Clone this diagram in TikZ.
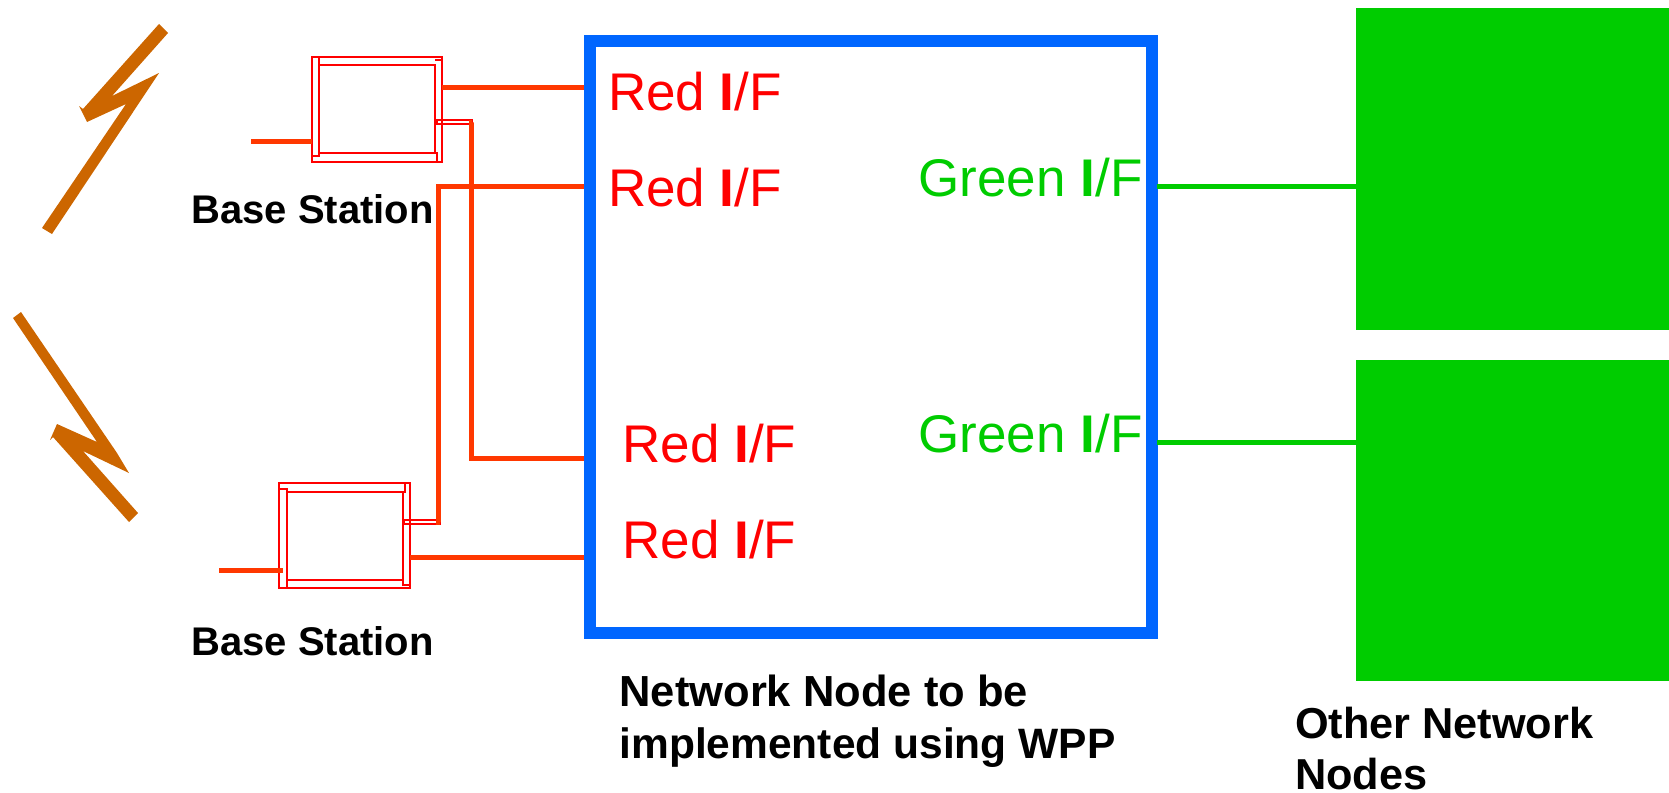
\documentclass[tikz,border=0pt]{standalone}
\usepackage{fontspec}
\setmainfont{Liberation Sans}
\definecolor{wire}{RGB}{255,56,0}
\definecolor{boxred}{RGB}{255,0,0}
\definecolor{bolt}{RGB}{204,102,0}
\definecolor{nodeblue}{RGB}{0,102,255}
\definecolor{netgreen}{RGB}{0,204,0}
\newcommand{\iface}[1]{#1 \textbf{I}/F}
\tikzset{
  every node/.style={outer sep=0pt},
  wireline/.style={draw=wire,line width=5pt},
  boxline/.style={draw=boxred,line width=1.5pt},
  stationbox/.style={draw=boxred,line width=1.8pt,inner sep=0pt,anchor=north west},
  boltshape/.style={fill=bolt,draw=none},
  greenline/.style={draw=netgreen,line width=5pt},
  redlabel/.style={text=boxred,font=\fontsize{53}{53}\selectfont,anchor=base west,inner sep=0pt},
  greenlabel/.style={text=netgreen,font=\fontsize{53}{53}\selectfont,anchor=base west,inner sep=0pt},
  boldlabel/.style={font=\bfseries\fontsize{40}{40}\selectfont,anchor=base west,inner sep=0pt},
  biglabel/.style={font=\bfseries\fontsize{43.3}{52}\selectfont,anchor=base west,inner sep=0pt},
  netbox/.style={fill=netgreen,draw=none,minimum width=313pt,inner sep=0pt,anchor=north west}
}
\begin{document}
\begin{tikzpicture}[x=1pt,y=-1pt]
\useasboundingbox (0,0) rectangle (1669,792);
% bolts
\fill[boltshape] (159,24) -- (168,33) -- (112,96) -- (159,73) -- (52,234) -- (42,228) -- (126,104) -- (87,122) -- (79,106) -- (83,109) -- cycle;
\fill[boltshape] (21,312) -- (117,453) -- (129,473) -- (83,451) -- (138,513) -- (129,522) -- (53,437) -- (50,440) -- (57,424) -- (97,442) -- (13,318) -- cycle;
% base station boxes
\node[stationbox,minimum width=130pt,minimum height=105pt] (bs1) at (312,57) {};
\draw[boxline] (319,57) -- (319,156) -- (312,156);
\draw[boxline] (319,65) -- (435,65) -- (435,153) -- (319,153);
\draw[boxline] (435,60) -- (442,60);
\draw[boxline] (435,153) -- (437,153) -- (437,162);
\node[stationbox,minimum width=131pt,minimum height=105pt] (bs2) at (279,483) {};
\draw[boxline] (279,489) -- (287,489) -- (287,588);
\draw[boxline] (287,492) -- (403,492) -- (403,580) -- (287,580);
\draw[boxline] (405,483) -- (405,492) -- (403,492);
\draw[boxline] (403,580) -- (403,585) -- (410,585);
% port stubs
\node[draw=boxred,line width=1.5pt,minimum width=35pt,minimum height=4pt,inner sep=0pt,anchor=north west] (s1) at (437,120) {};
\node[draw=boxred,line width=1.5pt,minimum width=36pt,minimum height=4pt,inner sep=0pt,anchor=north west] (s2) at (404,520) {};
% blue node
\node[draw=nodeblue,line width=12pt,minimum width=562pt,minimum height=592pt,inner sep=0pt,anchor=north west] (nn) at (589.5,41) {};
% green nodes
\node[netbox,minimum height=322pt] (g1) at (1356,8) {};
\node[netbox,minimum height=321pt] (g2) at (1356,360) {};
% free ends
\coordinate (in1) at (251,141);
\coordinate (in2) at (219,570);
\coordinate (w1) at (584,87);
\coordinate (w2) at (584,186);
\coordinate (w3) at (584,458);
\coordinate (w4) at (584,557);
\coordinate (w5) at (1157,186);
\coordinate (w6) at (1157,442);
% connectors
\draw[wireline] (in1) -- (bs1.west |- in1);
\draw[wireline] (in2) -- (283,570);
\draw[wireline] (bs1.east |- w1) -- (w1);
\draw[wireline] (bs2.east |- w4) -- (w4);
\draw[wireline] (s1.east) -| (471,458) -- (w3);
\draw[wireline] (s2.east) -| (438,186) -- (w2);
\draw[greenline] (w5) -- (g1.west |- w5);
\draw[greenline] (w6) -- (g2.west |- w6);
% labels
\node[redlabel] (r1) at (608,110.7) {\iface{Red}};
\node[redlabel] (r2) at (608,206.7) {\iface{Red}};
\node[redlabel] (r3) at (622.5,462) {\iface{Red}};
\node[redlabel] (r4) at (622.5,558) {\iface{Red}};
\node[greenlabel] (l1) at (918.5,196) {\iface{Green}};
\node[greenlabel] (l2) at (918.5,452) {\iface{Green}};
\node[boldlabel] (b1) at (191.5,223) {Base Station};
\node[boldlabel] (b2) at (191.5,655) {Base Station};
\node[biglabel,font=\bfseries\fontsize{43.5}{52}\selectfont] (t1) at (619.5,706) {Network Node to be};
\node[biglabel,font=\bfseries\fontsize{42.5}{52}\selectfont] (t2) at (619.5,758) {implemented using WPP};
\node[biglabel] (t3) at (1295,738) {Other Network};
\node[biglabel] (t4) at (1295,789.5) {Nodes};
\end{tikzpicture}
\end{document}
